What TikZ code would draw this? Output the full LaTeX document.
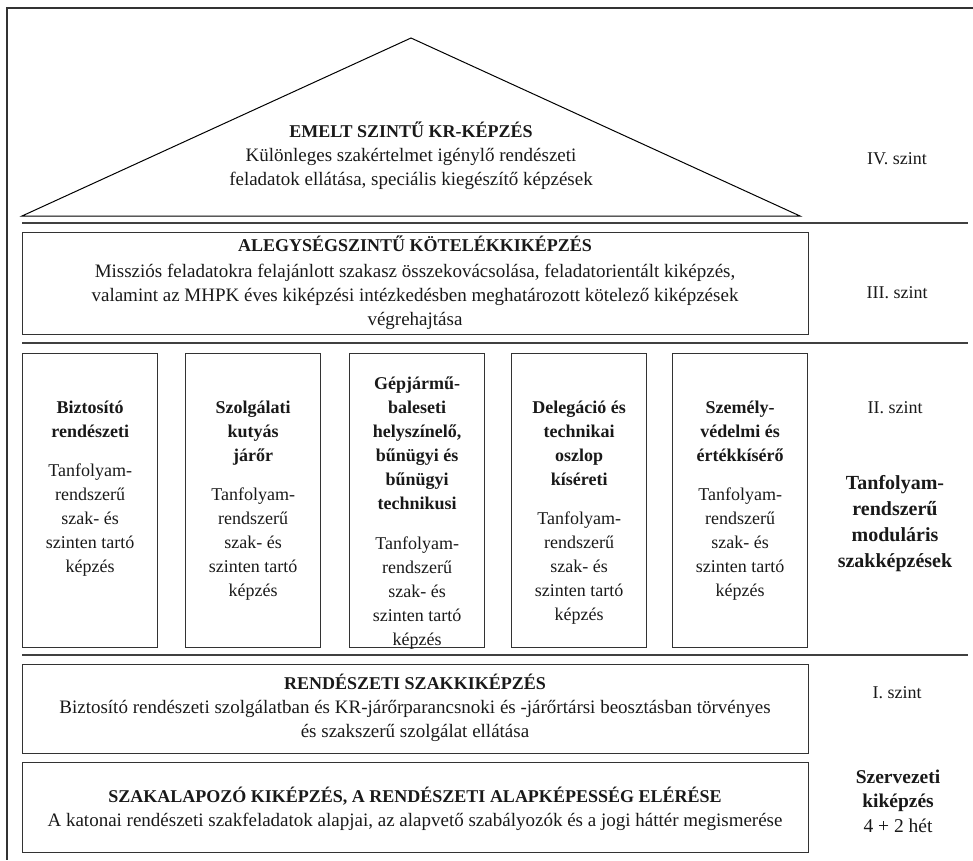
\documentclass[tikz,border=0pt]{standalone}
\usepackage{fontspec}
\setmainfont{Liberation Serif}
\begin{document}
\begin{tikzpicture}[x=1pt,y=-1pt,
  rule/.style={line width=1.8pt, draw=black!75},
  frame/.style={line width=1.6pt, draw=black!80},
  box/.style={draw=black!80, line width=1.4pt, inner sep=0pt, anchor=north west},
  tri/.style={draw=black, line width=1pt},
  txt/.style={font=\fontsize{18}{24}\selectfont, align=center, inner sep=0pt, text=black!90},
  wide/.style={font=\fontsize{19}{24}\selectfont, align=center, inner sep=0pt, text=black!90},
  lbl/.style={font=\fontsize{18}{24}\selectfont, align=center, inner sep=0pt, text=black!90},
  big/.style={font=\fontsize{20}{26}\selectfont\bfseries, align=center, inner sep=0pt, text=black!90}]
\useasboundingbox (0,0) rectangle (973,860);
% outer frame
\coordinate (ftr) at (973,8);
\coordinate (ftl) at (7,8);
\coordinate (fbl) at (7,860);
\draw[frame] (ftr) -- (ftl) -- (fbl);
% separators
\coordinate (s1a) at (22,223); \coordinate (s1b) at (968,223);
\coordinate (s2a) at (22,343); \coordinate (s2b) at (968,343);
\coordinate (s3a) at (22,655); \coordinate (s3b) at (968,655);
\draw[rule] (s1a) -- (s1b);
\draw[rule] (s2a) -- (s2b);
\draw[rule] (s3a) -- (s3b);
% triangle
\coordinate (apex) at (411,38);
\coordinate (tbl) at (22,216);
\coordinate (tbr) at (800,216);
\draw[tri] (tbl) -- (apex) -- (tbr) -- cycle;
\node[wide] (t4) at (411,156) {{\fontsize{18}{24}\selectfont\bfseries EMELT SZINTŰ KR-KÉPZÉS}\\
  Különleges szakértelmet igénylő rendészeti\\
  feladatok ellátása, speciális kiegészítő képzések};
% level III
\node[box, minimum width=786pt, minimum height=102pt] (b3) at (22,232) {};
\node[wide] (t3) at (415,283) {{\fontsize{18}{24}\selectfont\bfseries ALEGYSÉGSZINTŰ KÖTELÉKKIKÉPZÉS}\\[2pt]
  Missziós feladatokra felajánlott szakasz összekovácsolása, feladatorientált kiképzés,\\
  valamint az MHPK éves kiképzési intézkedésben meghatározott kötelező kiképzések\\
  végrehajtása};
% level II columns
\node[box, minimum width=135pt, minimum height=294pt] (c1) at (22,353) {};
\node[box, minimum width=135pt, minimum height=294pt] (c2) at (185,353) {};
\node[box, minimum width=135pt, minimum height=294pt] (c3) at (349,353) {};
\node[box, minimum width=135pt, minimum height=294pt] (c4) at (511,353) {};
\node[box, minimum width=135pt, minimum height=294pt] (c5) at (672,353) {};
\node[txt] (tc1) at (c1.center |- 0,489) {\textbf{Biztosító}\\ \textbf{rendészeti}\\[15pt]
  Tanfolyam-\\ rendszerű\\ szak- és\\ szinten tartó\\ képzés};
\node[txt] (tc2) at (c2.center |- 0,501) {\textbf{Szolgálati}\\ \textbf{kutyás}\\ \textbf{járőr}\\[15pt]
  Tanfolyam-\\ rendszerű\\ szak- és\\ szinten tartó\\ képzés};
\node[txt] (tc3) at (c3.center |- 0,513) {\textbf{Gépjármű-}\\ \textbf{baleseti}\\ \textbf{helyszínelő,}\\ \textbf{bűnügyi és}\\ \textbf{bűnügyi}\\ \textbf{technikusi}\\[16pt]
  Tanfolyam-\\ rendszerű\\ szak- és\\ szinten tartó\\ képzés};
\node[txt] (tc4) at (c4.center |- 0,513) {\textbf{Delegáció és}\\ \textbf{technikai}\\ \textbf{oszlop}\\ \textbf{kíséreti}\\[15pt]
  Tanfolyam-\\ rendszerű\\ szak- és\\ szinten tartó\\ képzés};
\node[txt] (tc5) at (c5.center |- 0,501) {\textbf{Személy-}\\ \textbf{védelmi és}\\ \textbf{értékkísérő}\\[15pt]
  Tanfolyam-\\ rendszerű\\ szak- és\\ szinten tartó\\ képzés};
% level I
\node[box, minimum width=786pt, minimum height=89pt] (b1) at (22,664) {};
\node[wide] (t1) at (415,708) {{\fontsize{18}{24}\selectfont\bfseries RENDÉSZETI SZAKKIKÉPZÉS}\\
  Biztosító rendészeti szolgálatban és KR-járőrparancsnoki és -járőrtársi beosztásban törvényes\\
  és szakszerű szolgálat ellátása};
% base
\node[box, minimum width=786pt, minimum height=90pt] (b0) at (22,762) {};
\node[wide] (t0) at (415,809) {{\fontsize{18}{24}\selectfont\bfseries SZAKALAPOZÓ KIKÉPZÉS, A RENDÉSZETI ALAPKÉPESSÉG ELÉRÉSE}\\
  A katonai rendészeti szakfeladatok alapjai, az alapvető szabályozók és a jogi háttér megismerése};
% right labels
\node[lbl] (l4) at (897,159) {IV. szint};
\node[lbl] (l3) at (897,293) {III. szint};
\node[lbl] (l2) at (895,408) {II. szint};
\node[big] (l2b) at (895,524) {Tanfolyam-\\ rendszerű\\ moduláris\\ szakképzések};
\node[lbl] (l1) at (897,693) {I. szint};
\node[lbl, font=\fontsize{19.5}{24.5}\selectfont] (l0) at (898,801) {\textbf{Szervezeti}\\ \textbf{kiképzés}\\ 4 + 2 hét};
\end{tikzpicture}
\end{document}
